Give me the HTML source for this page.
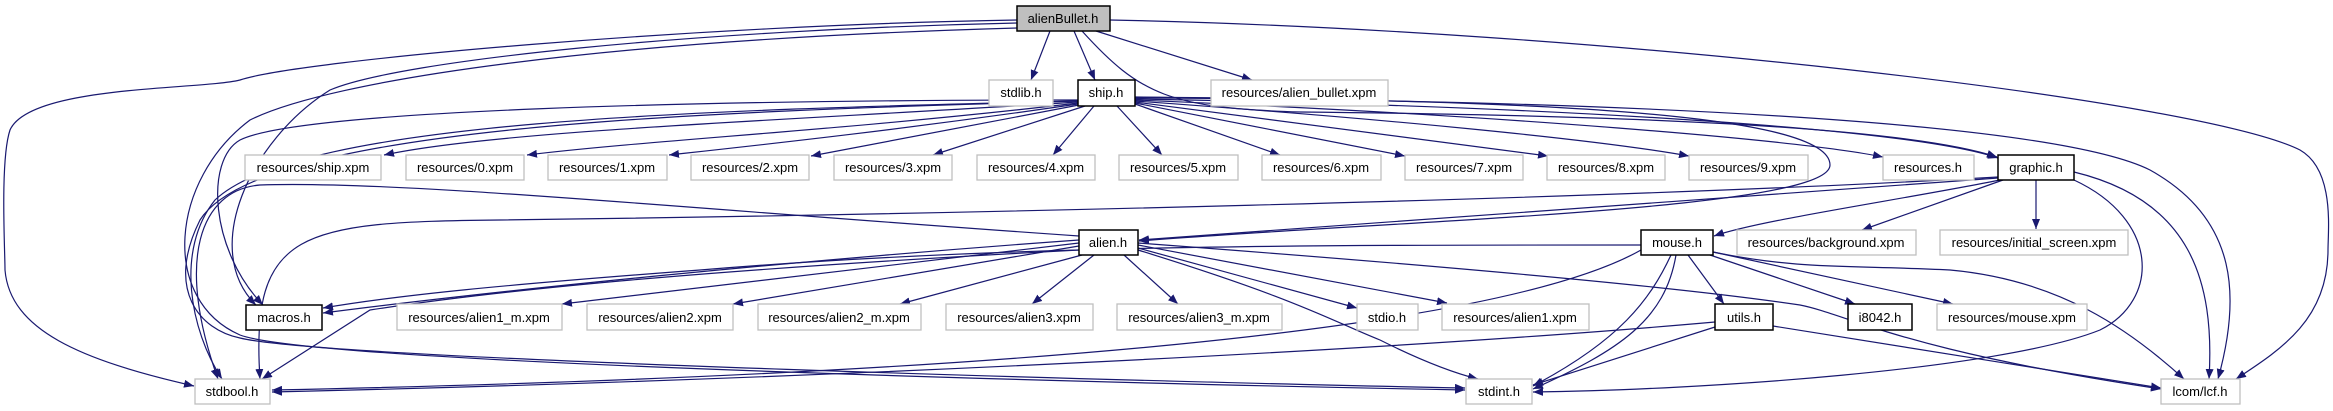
<!DOCTYPE html>
<html><head><meta charset="utf-8"><style>
html,body{margin:0;padding:0;background:#fff;}
svg{display:block;}
text{font-family:"Liberation Sans",Arial,sans-serif;font-size:13px;fill:#000;text-anchor:middle;}
.e{fill:none;stroke:#191970;stroke-width:1.2;marker-end:url(#a);}
.g{fill:#fff;stroke:#bfbfbf;stroke-width:1.3;}
.b{fill:#fff;stroke:#000;stroke-width:1.5;}
</style></head><body>
<svg width="2333" height="411" viewBox="0 0 2333 411" xmlns="http://www.w3.org/2000/svg">
<defs><marker id="a" markerUnits="userSpaceOnUse" markerWidth="11" markerHeight="8" refX="10" refY="4" orient="auto"><path d="M0,0 L10,4 L0,8 z" fill="#191970"/></marker></defs>
<!-- alienBullet edges -->
<path class="e" d="M1050,31 L1031,80"/>
<path class="e" d="M1074,31 L1095,80"/>
<path class="e" d="M1096,31 L1252,80"/>
<path class="e" d="M1082,31 C1140,95 1170,108 1300,112 C1600,115 1900,125 1997,157"/>
<path class="e" d="M1110,20 C1600,30 2200,100 2300,150 C2335,170 2328,230 2328,250 C2328,320 2280,350 2236,379"/>
<path class="e" d="M1017,20 C700,25 300,60 240,80 C200,90 30,85 10,130 C0,160 5,250 5,270 C10,330 80,360 194,386"/>
<path class="e" d="M1017,23 C700,30 400,60 330,90 C250,140 200,250 256,305"/>
<path class="e" d="M1017,28 C600,40 330,80 250,120 C170,180 160,300 240,335 C320,365 1200,385 1465,390"/>
<!-- ship edges -->
<path class="e" d="M1078,102 C800,120 500,130 384,155"/>
<path class="e" d="M1078,103 C850,130 650,140 527,155"/>
<path class="e" d="M1078,104 C900,130 760,145 669,155"/>
<path class="e" d="M1079,105 L811,156"/>
<path class="e" d="M1085,106 L933,155"/>
<path class="e" d="M1094,106 L1053,155"/>
<path class="e" d="M1117,106 L1162,155"/>
<path class="e" d="M1135,104 L1280,155"/>
<path class="e" d="M1135,103 L1405,156"/>
<path class="e" d="M1135,102 L1548,156"/>
<path class="e" d="M1135,101 C1400,120 1600,140 1689,156"/>
<path class="e" d="M1135,100 C1500,115 1800,140 1883,157"/>
<path class="e" d="M1135,99 C1500,105 1900,125 1998,158"/>
<path class="e" d="M1135,98 C1600,100 2050,120 2150,170 C2240,220 2240,300 2218,379"/>
<path class="e" d="M1135,97 C1500,100 1830,110 1830,165 C1830,210 1400,220 1139,241"/>
<path class="e" d="M1078,100 C700,100 300,110 240,140 C205,160 210,250 263,305"/>
<path class="e" d="M1078,101 C700,110 300,120 215,200 C175,250 190,330 222,379"/>
<path class="e" d="M1078,101 C700,112 260,125 200,220 C165,290 200,330 240,338 C330,360 1200,383 1465,388"/>
<!-- graphic edges -->
<path class="e" d="M2000,180 C1900,200 1760,220 1714,236"/>
<path class="e" d="M2003,180 L1862,230"/>
<path class="e" d="M2036,180 L2036,229"/>
<path class="e" d="M2074,172 C2190,200 2215,280 2209,379"/>
<path class="e" d="M2074,180 C2160,220 2160,300 2100,330 C2000,370 1700,390 1533,392"/>
<path class="e" d="M1998,178 C1700,200 1400,220 1139,240"/>
<path class="e" d="M1998,177 C1600,200 900,215 500,220 C300,222 250,230 260,379"/>
<!-- alien edges -->
<path class="e" d="M1079,240 C800,260 500,290 323,313"/>
<path class="e" d="M1079,243 L562,304"/>
<path class="e" d="M1079,246 L733,304"/>
<path class="e" d="M1082,255 L900,304"/>
<path class="e" d="M1094,255 L1032,304"/>
<path class="e" d="M1124,255 L1178,304"/>
<path class="e" d="M1138,248 L1357,308"/>
<path class="e" d="M1138,245 L1447,303"/>
<path class="e" d="M1138,250 C1300,300 1330,320 1380,340 C1420,360 1450,372 1478,379"/>
<path class="e" d="M1079,236 C700,210 400,180 260,185 C200,190 175,260 218,379"/>
<path class="e" d="M1079,250 C700,270 500,290 370,310 L262,379"/>
<path class="e" d="M1138,243 C1500,270 1700,290 1800,305 C1850,315 1900,350 2161,389"/>
<!-- mouse edges -->
<path class="e" d="M1688,255 L1724,304"/>
<path class="e" d="M1710,255 L1855,304"/>
<path class="e" d="M1713,252 L1953,304"/>
<path class="e" d="M1713,252 C1800,270 1850,265 1950,270 C2060,280 2130,330 2184,379"/>
<path class="e" d="M1671,255 C1650,300 1620,340 1533,386"/>
<path class="e" d="M1676,255 C1665,320 1620,350 1533,389"/>
<path class="e" d="M1641,245 C1300,245 1000,245 700,270 C500,285 400,295 323,308"/>
<path class="e" d="M1641,250 C1500,330 1000,375 272,390"/>
<!-- utils edges -->
<path class="e" d="M1715,322 C1400,350 800,380 272,392"/>
<path class="e" d="M1715,327 L1533,385"/>
<path class="e" d="M1773,326 L2161,388"/>
<!-- nodes -->
<rect x="1017" y="6" width="93" height="25" fill="#bfbfbf" stroke="#000" stroke-width="1.5"/><text x="1063" y="23">alienBullet.h</text>
<rect class="g" x="989" y="80" width="64" height="26"/><text x="1021" y="97">stdlib.h</text>
<rect class="b" x="1078" y="80" width="57" height="26"/><text x="1106" y="97">ship.h</text>
<rect class="g" x="1211" y="80" width="177" height="26"/><text x="1299" y="97">resources/alien_bullet.xpm</text>
<rect class="g" x="245" y="155" width="136" height="25"/><text x="313" y="172">resources/ship.xpm</text>
<rect class="g" x="406" y="155" width="118" height="25"/><text x="465" y="172">resources/0.xpm</text>
<rect class="g" x="548" y="155" width="119" height="25"/><text x="607" y="172">resources/1.xpm</text>
<rect class="g" x="691" y="155" width="118" height="25"/><text x="750" y="172">resources/2.xpm</text>
<rect class="g" x="834" y="155" width="118" height="25"/><text x="893" y="172">resources/3.xpm</text>
<rect class="g" x="977" y="155" width="118" height="25"/><text x="1036" y="172">resources/4.xpm</text>
<rect class="g" x="1119" y="155" width="119" height="25"/><text x="1178" y="172">resources/5.xpm</text>
<rect class="g" x="1262" y="155" width="119" height="25"/><text x="1321" y="172">resources/6.xpm</text>
<rect class="g" x="1405" y="155" width="118" height="25"/><text x="1464" y="172">resources/7.xpm</text>
<rect class="g" x="1547" y="155" width="118" height="25"/><text x="1606" y="172">resources/8.xpm</text>
<rect class="g" x="1689" y="155" width="119" height="25"/><text x="1748" y="172">resources/9.xpm</text>
<rect class="g" x="1883" y="155" width="91" height="25"/><text x="1928" y="172">resources.h</text>
<rect class="b" x="1998" y="155" width="76" height="25"/><text x="2036" y="172">graphic.h</text>
<rect class="b" x="1079" y="230" width="59" height="25"/><text x="1108" y="247">alien.h</text>
<rect class="b" x="1641" y="230" width="72" height="25"/><text x="1677" y="247">mouse.h</text>
<rect class="g" x="1737" y="230" width="179" height="25"/><text x="1826" y="247">resources/background.xpm</text>
<rect class="g" x="1940" y="230" width="188" height="25"/><text x="2034" y="247">resources/initial_screen.xpm</text>
<rect class="b" x="246" y="305" width="76" height="25"/><text x="284" y="322">macros.h</text>
<rect class="g" x="397" y="304" width="165" height="26"/><text x="479" y="322">resources/alien1_m.xpm</text>
<rect class="g" x="587" y="304" width="146" height="26"/><text x="660" y="322">resources/alien2.xpm</text>
<rect class="g" x="758" y="304" width="163" height="26"/><text x="839" y="322">resources/alien2_m.xpm</text>
<rect class="g" x="946" y="304" width="147" height="26"/><text x="1019" y="322">resources/alien3.xpm</text>
<rect class="g" x="1117" y="304" width="165" height="26"/><text x="1199" y="322">resources/alien3_m.xpm</text>
<rect class="g" x="1357" y="304" width="61" height="26"/><text x="1387" y="322">stdio.h</text>
<rect class="g" x="1442" y="304" width="147" height="26"/><text x="1515" y="322">resources/alien1.xpm</text>
<rect class="b" x="1715" y="304" width="58" height="26"/><text x="1744" y="322">utils.h</text>
<rect class="b" x="1848" y="304" width="64" height="26"/><text x="1880" y="322">i8042.h</text>
<rect class="g" x="1937" y="304" width="150" height="26"/><text x="2012" y="322">resources/mouse.xpm</text>
<rect class="g" x="195" y="379" width="75" height="25"/><text x="232" y="396">stdbool.h</text>
<rect class="g" x="1466" y="379" width="66" height="25"/><text x="1499" y="396">stdint.h</text>
<rect class="g" x="2161" y="379" width="79" height="25"/><text x="2200" y="396">lcom/lcf.h</text>
</svg>
</body></html>
